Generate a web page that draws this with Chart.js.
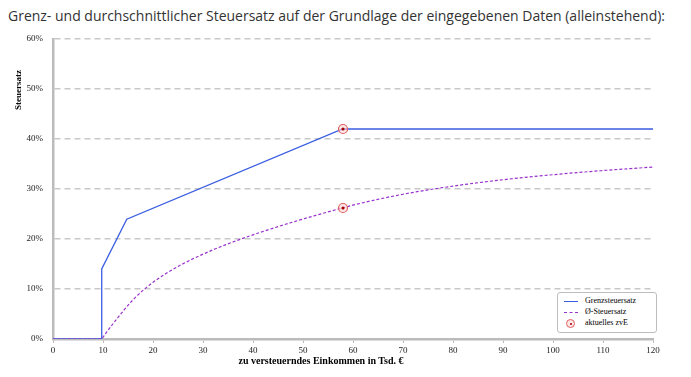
<!DOCTYPE html>
<html><head><meta charset="utf-8">
<script src="https://cdn.jsdelivr.net/npm/chart.js@4"></script>
<style>
html,body{margin:0;padding:0;background:#fff;}
#wrap{position:relative;width:691px;height:377px;overflow:hidden;}
#title{position:absolute;left:8px;top:5px;font-family:"Open Sans",sans-serif;font-size:15px;color:#333;white-space:nowrap;transform-origin:0 0;}
canvas{position:absolute;left:0;top:0;}
#ytitle{position:absolute;left:18px;top:90px;font-family:"Liberation Serif",serif;font-weight:bold;font-size:9px;color:#000;transform:translate(-50%,-50%) rotate(-90deg);white-space:nowrap;}
#xtitle{position:absolute;left:321px;top:360px;font-family:"Liberation Serif",serif;font-weight:bold;font-size:10px;color:#000;transform:translate(-50%,-50%);white-space:nowrap;}
#legend{position:absolute;left:557px;top:292px;width:98px;height:39px;border:1.5px solid #bdbdbd;border-radius:3px;background:#fff;font-family:"Liberation Serif",serif;font-size:8px;color:#000;}
.row{position:absolute;left:6px;height:10px;line-height:10px;}
.row span{position:absolute;left:21px;top:0;white-space:nowrap;}
.smp{position:absolute;left:0;top:5px;width:14px;height:0;}
</style></head>
<body>
<div id="wrap">
<div id="title">Grenz- und durchschnittlicher Steuersatz auf der Grundlage der eingegebenen Daten (alleinstehend):</div>
<canvas id="c" width="691" height="377"></canvas>
<div id="ytitle">Steuersatz</div>
<div id="xtitle">zu versteuerndes Einkommen in Tsd. €</div>
<div id="legend">
 <div class="row" style="top:3px"><div class="smp" style="border-top:1.2px solid #3a5ee0"></div><span>Grenzsteuersatz</span></div>
 <div class="row" style="top:14px"><div class="smp" style="border-top:1.2px dashed #9933cc"></div><span>Ø-Steuersatz</span></div>
 <div class="row" style="top:25px"><div class="smp" style="left:2px;top:1px;width:7px;height:7px;border:1px solid #e06060;border-radius:50%;background:rgba(255,215,215,0.6)"><div style="position:absolute;left:2.5px;top:2.5px;width:2px;height:2px;border-radius:50%;background:#a00000"></div></div><span>aktuelles zvE</span></div>
</div>
</div>
<script>
// Grenzsteuersatz (marginal rate), x in Tsd. €, y in %
const grenzX = [0, 9.744, 9.744, 14.753, 57.918, 120];
const grenzY = [0, 0, 14, 23.97, 42, 42];
// Durchschnittssteuersatz (average rate)
const avgX = [0, 9.744, 10, 11, 12, 13, 14, 14.753, 16, 18, 20, 22.5, 25, 27.5, 30, 32.5, 35, 37.5, 40, 42.5, 45, 47.5, 50, 52.5, 55, 57.918, 60, 65, 70, 75, 80, 85, 90, 95, 100, 105, 110, 115, 120];
const avgY = [0, 0, 0.36, 1.74, 3.05, 4.32, 5.54, 6.45, 7.83, 9.73, 11.33, 13.04, 14.51, 15.80, 16.97, 18.04, 19.03, 19.96, 20.83, 21.67, 22.47, 23.24, 23.99, 24.71, 25.42, 26.22, 26.77, 27.94, 28.95, 29.82, 30.58, 31.25, 31.85, 32.38, 32.86, 33.30, 33.69, 34.05, 34.39];
// aktuelles zvE
const zveX = [58, 58];
const zveY = [42, 26.2];
const yTicks = [0, 10, 20, 30, 40, 50, 60];

// fit title width
(function(){const t=document.getElementById('title');const w=t.getBoundingClientRect().width;t.style.transform='scaleX('+(657/w)+')';})();

const pts=(xs,ys)=>xs.map((x,i)=>({x:x,y:ys[i]}));
const serif='"Liberation Serif", serif';
new Chart(document.getElementById('c'),{
 type:'line',
 data:{datasets:[
  {label:'aktuelles zvE dot',data:pts(zveX,zveY),showLine:false,pointRadius:1.6,pointBackgroundColor:'#a00000',pointBorderWidth:0,order:0},
  {label:'aktuelles zvE',data:pts(zveX,zveY),showLine:false,pointRadius:4.5,pointBorderColor:'#e06060',pointBorderWidth:1.2,pointBackgroundColor:'rgba(255,215,215,0.6)',order:1},
  {label:'Grenzsteuersatz',data:pts(grenzX,grenzY),borderColor:'#3a5ee0',borderWidth:1.3,pointRadius:0,tension:0,order:3},
  {label:'Ø-Steuersatz',data:pts(avgX,avgY),borderColor:'#9933cc',borderWidth:1.2,borderDash:[3,2],pointRadius:0,cubicInterpolationMode:'monotone',order:2}
 ]},
 options:{
  responsive:false,animation:false,
  layout:{padding:{left:0,top:39,right:38,bottom:0}},
  plugins:{legend:{display:false},tooltip:{enabled:false}},
  scales:{
   x:{type:'linear',min:0,max:120,
      afterFit:s=>{s.height=38;},
      ticks:{stepSize:10,font:{family:serif,size:9},color:'#222',padding:2,maxRotation:0},
      grid:{drawOnChartArea:false,drawTicks:true,tickLength:4,color:'#bbb',lineWidth:1},
      border:{color:'#bbb',width:2.5}},
   y:{min:0,max:60,
      afterFit:s=>{s.width=53;},
      afterBuildTicks:s=>{s.ticks=yTicks.map(v=>({value:v}));},
      ticks:{callback:v=>v+'%',font:{family:serif,size:9},color:'#222',padding:10},
      grid:{drawTicks:false,color:c=>c.tick&&c.tick.value===0?'rgba(0,0,0,0)':'#c8c8c8',lineWidth:1.5},
      border:{color:'#bbb',width:2.5,dash:[6,4]}}
  }
 }
});
</script>
</body></html>
